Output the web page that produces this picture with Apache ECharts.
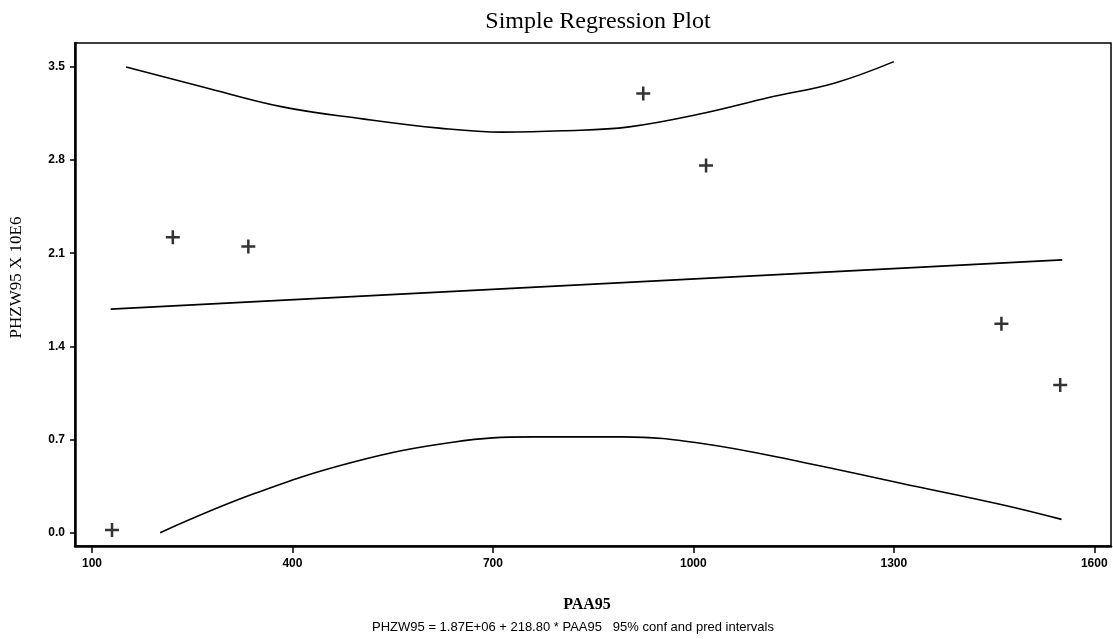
<!DOCTYPE html>
<html>
<head>
<meta charset="utf-8">
<script src="https://cdn.jsdelivr.net/npm/echarts@6/dist/echarts.min.js"></script>
<style>
  html, body { margin: 0; padding: 0; background: #fff; }
  #chart { width: 1113px; height: 639px; }
</style>
</head>
<body>
<div id="chart"></div>
<script>
// observed points (PAA95, PHZW95 x 10E6)
const pointsX = [130, 221, 334, 925, 1019, 1461, 1549]
const pointsY = [0.02, 2.22, 2.15, 3.30, 2.76, 1.57, 1.11]

// fitted line ends
const fitX = [128, 1552]
const fitY = [1.68, 2.05]

// upper interval curve
const upperX = [151, 266, 385, 505, 620, 714, 804, 904, 1013, 1113, 1212, 1300]
const upperY = [3.50, 3.35, 3.20, 3.11, 3.04, 3.01, 3.02, 3.05, 3.15, 3.27, 3.38, 3.54]

// lower interval curve
const lowerX = [202, 341, 490, 640, 759, 894, 1013, 1163, 1312, 1462, 1551]
const lowerY = [0.00, 0.29, 0.53, 0.68, 0.72, 0.72, 0.67, 0.53, 0.37, 0.21, 0.10]

const xTicks = [100, 400, 700, 1000, 1300, 1600]
const yTicks = [0, 0.7, 1.4, 2.1, 2.8, 3.5]

const zip = (xs, ys) => xs.map((x, i) => [x, ys[i]])

const plus = 'path://M4.1,0h1.8v10h-1.8z M0,4.1h10v1.8h-10z'

const chart = echarts.init(document.getElementById('chart'))
chart.setOption({
  animation: false,
  title: {
    text: 'Simple Regression Plot',
    left: 593,
    textAlign: 'center',
    top: 5,
    textStyle: { fontFamily: 'Liberation Serif', fontWeight: 'normal', fontSize: 24, color: '#000' }
  },
  graphic: [{
    type: 'text',
    x: 573,
    y: 627,
    style: {
      text: 'PHZW95 = 1.87E+06 + 218.80 * PAA95   95% conf and pred intervals',
      font: '13px "Liberation Sans Narrow", "Liberation Sans"',
      fill: '#000',
      align: 'center',
      verticalAlign: 'middle'
    }
  }],
  grid: {
    left: 72,
    right: 2,
    top: 43,
    bottom: 93,
    show: true,
    borderColor: '#000',
    borderWidth: 1.5
  },
  xAxis: {
    type: 'value',
    min: 74.6,
    max: 1625,
    name: 'PAA95',
    nameLocation: 'middle',
    nameGap: 51,
    nameTextStyle: { fontFamily: 'Liberation Serif', fontWeight: 'bold', fontSize: 16, color: '#000', padding: [0, 12, 0, 0] },
    axisLine: { onZero: false, lineStyle: { color: '#000', width: 2.5 } },
    axisTick: { customValues: xTicks, length: 7, lineStyle: { color: '#000', width: 1.5 } },
    axisLabel: {
      customValues: xTicks,
      margin: 12,
      formatter: v => String(v),
      fontFamily: 'Liberation Sans',
      fontWeight: 'bold',
      fontSize: 12,
      color: '#000'
    },
    splitLine: { show: false }
  },
  yAxis: {
    type: 'value',
    min: -0.1,
    max: 3.68,
    name: 'PHZW95 X 10E6',
    nameLocation: 'middle',
    nameGap: 50,
    nameTextStyle: { fontFamily: 'Liberation Serif', fontSize: 17, color: '#000', padding: [0, 0, 0, 34] },
    axisLine: { onZero: false, lineStyle: { color: '#000', width: 2.5 } },
    axisTick: { customValues: yTicks, length: 5, lineStyle: { color: '#000', width: 1.5 } },
    axisLabel: {
      customValues: yTicks,
      margin: 10,
      formatter: v => v.toFixed(1),
      fontFamily: 'Liberation Sans',
      fontWeight: 'bold',
      fontSize: 12,
      color: '#000'
    },
    splitLine: { show: false }
  },
  series: [
    {
      name: 'upper',
      type: 'line',
      smooth: 0.4,
      showSymbol: false,
      lineStyle: { color: '#000', width: 1.6 },
      data: zip(upperX, upperY)
    },
    {
      name: 'lower',
      type: 'line',
      smooth: 0.4,
      showSymbol: false,
      lineStyle: { color: '#000', width: 1.6 },
      data: zip(lowerX, lowerY)
    },
    {
      name: 'fit',
      type: 'line',
      showSymbol: false,
      lineStyle: { color: '#000', width: 1.6 },
      data: zip(fitX, fitY)
    },
    {
      name: 'points',
      type: 'scatter',
      symbol: plus,
      symbolSize: 14,
      itemStyle: { color: '#000' },
      data: zip(pointsX, pointsY)
    }
  ]
})
</script>
</body>
</html>
